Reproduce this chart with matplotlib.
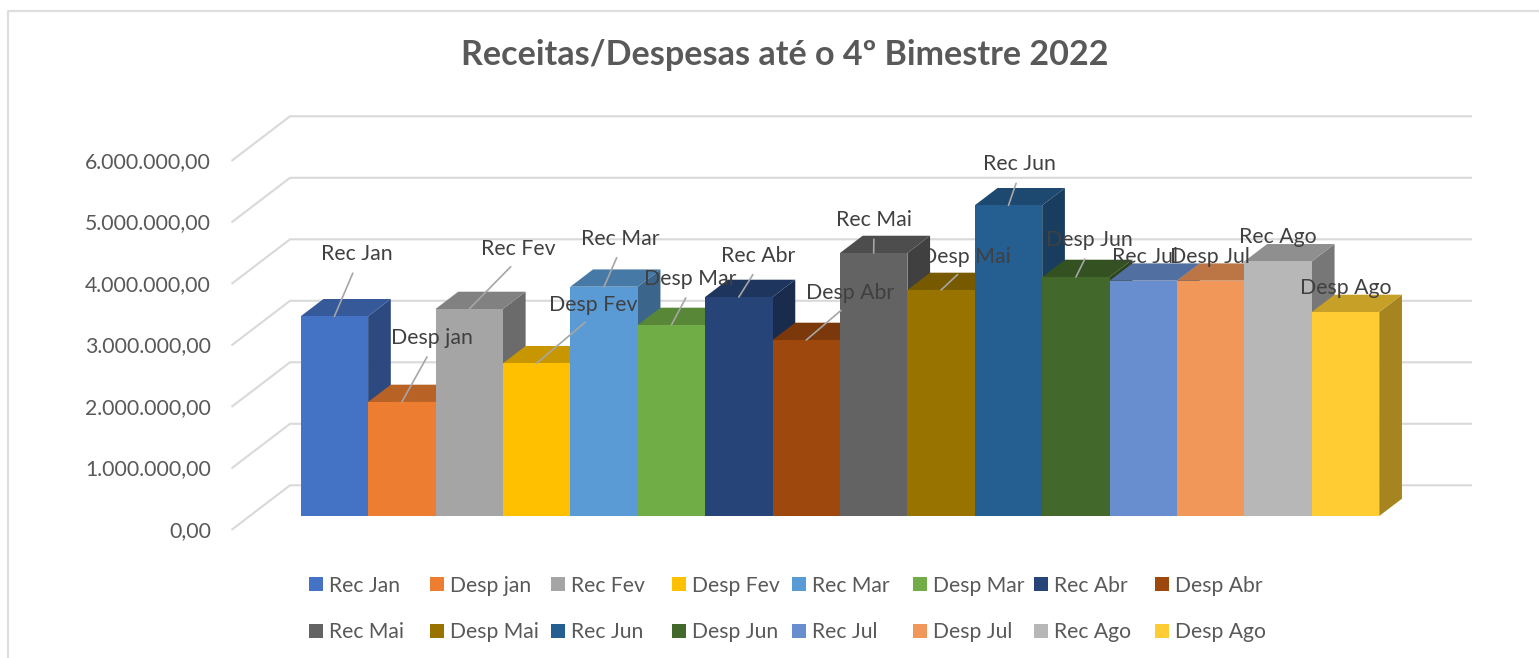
import matplotlib
matplotlib.use("Agg")
import matplotlib.pyplot as plt
from matplotlib.colors import to_rgb
from matplotlib.lines import Line2D
from matplotlib.patches import Polygon

plt.rcParams['font.family'] = ['Lato', 'DejaVu Sans']

# dados
labels = ['Rec Jan', 'Desp jan', 'Rec Fev', 'Desp Fev', 'Rec Mar', 'Desp Mar', 'Rec Abr', 'Desp Abr',
          'Rec Mai', 'Desp Mai', 'Rec Jun', 'Desp Jun', 'Rec Jul', 'Desp Jul', 'Rec Ago', 'Desp Ago']
values = [3247000, 1854000, 3366000, 2483000, 3728000, 3106000, 3561000, 2862000,
          4276000, 3675000, 5052000, 3886000, 3826000, 3826000, 4141000, 3317000]
colors = ['#4472C4', '#ED7D31', '#A5A5A5', '#FFC000', '#5B9BD5', '#70AD47', '#264478', '#9E480E',
          '#636363', '#997300', '#255E91', '#43682B', '#698ED0', '#F1975A', '#B7B7B7', '#FFCD33']
y_ticks = [0, 1000000, 2000000, 3000000, 4000000, 5000000, 6000000]
y_tick_labels = ['0,00', '1.000.000,00', '2.000.000,00', '3.000.000,00',
                 '4.000.000,00', '5.000.000,00', '6.000.000,00']

W, H = 1539, 658
PX_X = 67.41    # pixels por barra
PX_Y = 61.5     # pixels por milhao
LEFT, BASE = 300.7, 516

TEXT = '#595959'
LABEL = '#404040'
GRID = '#D9D9D9'
LEADER = '#A6A6A6'


def dx(px):
    return px / PX_X


def dy(px):
    return px / PX_Y * 1e6


def shade(color, f):
    return tuple(c * f for c in to_rgb(color))


fig = plt.figure(figsize=(W / 100, H / 100), dpi=100)
ax = fig.add_axes([LEFT / W, 1 - BASE / H, 16 * PX_X / W, 6 * PX_Y / H])
ax.set_xlim(0, 16)
ax.set_ylim(0, 6000000)
ax.axis('off')

# moldura (so esquerda e topo aparecem no recorte)
fig.add_artist(Line2D([7.5 / W, 7.5 / W, 1], [0, 1 - 10.5 / H, 1 - 10.5 / H], color='#DEDEDE', lw=1.6))

# grade 3D: parede lateral + parede do fundo
for v, t in zip(y_ticks, y_tick_labels):
    ax.plot([dx(232.3 - LEFT), dx(290 - LEFT), dx(1471 - LEFT)],
            [v - dy(13.3), v + dy(30.7), v + dy(30.7)],
            color=GRID, lw=1.5, clip_on=False, zorder=1, solid_joinstyle='miter')
    ax.text(dx(211 - LEFT), v - dy(15), t, ha='right', va='center',
            fontsize=15.3, color=TEXT, clip_on=False)

# barras: da esquerda para a direita, cada uma cobre a lateral da anterior
DEPTH_X, DEPTH_Y = dx(22.7), dy(17.3)
bars = []
for i, (val, col, lab) in enumerate(zip(values, colors, labels)):
    z = 2 + i * 0.1
    side = [(i + 1, 0), (i + 1 + DEPTH_X, DEPTH_Y), (i + 1 + DEPTH_X, val + DEPTH_Y), (i + 1, val)]
    top = [(i, val), (i + DEPTH_X, val + DEPTH_Y), (i + 1 + DEPTH_X, val + DEPTH_Y), (i + 1, val)]
    ax.add_patch(Polygon(side, closed=True, facecolor=shade(col, 0.65), edgecolor='none', zorder=z, clip_on=False))
    ax.add_patch(Polygon(top, closed=True, facecolor=shade(col, 0.78), edgecolor='none', zorder=z, clip_on=False))
    b = ax.bar(i + 0.5, val, width=1, color=col, label=lab, zorder=z + 0.01, clip_on=False)
    bars.append(b[0])

# posicao dos rotulos em pixels da imagem
label_x_px = [356.7, 432, 518.3, 593.7, 620.7, 690.5, 758.3, 849.7,
              874, 965.7, 1019.3, 1089.3, 1145, 1210, 1278.3, 1345.7]
label_y_px = [253, 337, 248, 304, 237.5, 278, 255, 292,
              218.5, 256, 163, 239, 256, 256, 236, 287]
has_leader = [True] * 12 + [False] * 4

for i, lab in enumerate(labels):
    px_x = LEFT + (i + 0.5) * PX_X
    px_y = BASE - values[i] / 1e6 * PX_Y
    off = (label_x_px[i] - px_x, px_y - label_y_px[i] - 1)
    props = None
    if has_leader[i]:
        props = dict(arrowstyle='-', color=LEADER, lw=1.2, relpos=(0.5, 0), shrinkA=5, shrinkB=0)
    ax.annotate(lab, xy=(i + 0.5, values[i]), xytext=off, textcoords='offset pixels',
                ha='center', va='center', fontsize=15.3, color=LABEL,
                arrowprops=props, annotation_clip=False, zorder=10)

# legenda: 8 colunas de 2 linhas, espacamento fixo como no original
for col in range(8):
    fig.legend(handles=[bars[col], bars[col + 8]], labels=[labels[col], labels[col + 8]],
               loc='upper left', bbox_to_anchor=((309 + col * 121 - (1 if col > 3 else 0)) / W, 1 - 575.5 / H),
               frameon=False, fontsize=15.2, labelcolor=TEXT, ncols=1, borderpad=0, borderaxespad=0,
               handlelength=0.66, handleheight=0.66, handletextpad=0.3, labelspacing=1.27)

fig.text(784.5 / W, 1 - 55 / H, 'Receitas/Despesas até o 4º Bimestre 2022', ha='center', va='center',
         fontsize=24.6, fontweight='bold', color=TEXT)

fig.savefig('out.png', dpi=100)
